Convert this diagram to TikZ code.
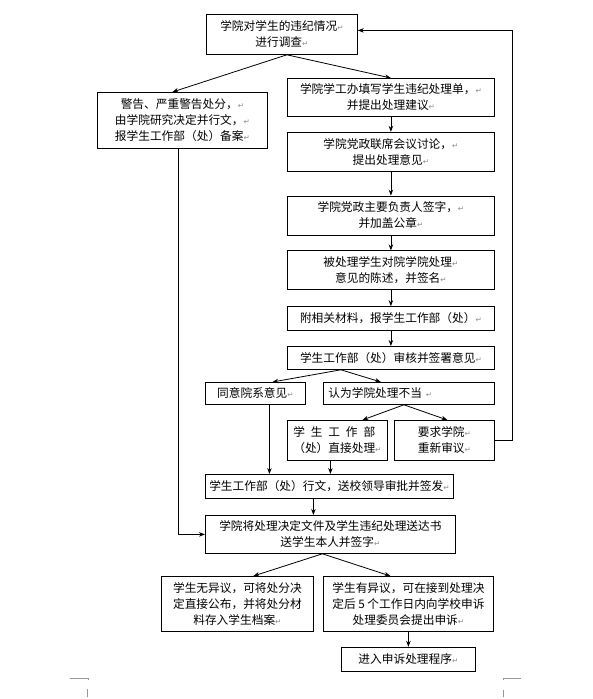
\documentclass[tikz,border=0pt]{standalone}
\usepackage{fontspec}
\usepackage{xcolor}
\usepackage{tikz}
\usetikzlibrary{positioning, arrows.meta, calc}
\newfontfamily\cjk{Noto Sans CJK SC}
\newfontfamily\dejavu{DejaVu Sans}
\newcommand{\crmark}{{\dejavu\fontsize{7.5}{8}\selectfont\textcolor{black!45}{↵}}}

\begin{document}
\begin{tikzpicture}[x=1pt, y=-1pt,
    box/.style={rectangle, draw, line width=0.8pt, align=center, inner sep=2pt, font=\cjk\fontsize{11.7}{16}\selectfont},
    colbox/.style={box, minimum width=207pt, anchor=north},
    arr/.style={-{Stealth[length=6pt,width=4.5pt]}, line width=0.8pt},
    crop/.style={draw=black!40, line width=0.6pt}
]
\useasboundingbox (0,0) rectangle (592,699);

\node[box, anchor=north west, minimum width=151pt, minimum height=40pt] (survey) at (206,14) {学院对学生的违纪情况\crmark\\进行调查\crmark};
\node[box, anchor=north west, minimum width=170pt, minimum height=56pt] (warn) at (97,92) {警告、严重警告处分，\crmark\\由学院研究决定并行文，\crmark\\报学生工作部（处）备案\crmark};

\node[colbox, anchor=north west, minimum height=38pt] (form) at (287,78) {学院学工办填写学生违纪处理单，\crmark\\并提出处理建议\crmark};
\node[colbox, minimum height=39pt, below=15pt of form] (meeting) {学院党政联席会议讨论，\crmark\\提出处理意见\crmark};
\node[colbox, minimum height=39pt, below=24pt of meeting] (leader) {学院党政主要负责人签字，\crmark\\并加盖公章\crmark};
\node[colbox, minimum height=39pt, below=15pt of leader] (statement) {被处理学生对院学院处理\crmark\\意见的陈述，并签名\crmark};
\node[colbox, minimum height=24pt, below=16pt of statement] (attach) {附相关材料，报学生工作部（处）\crmark};
\node[colbox, minimum height=23pt, below=15pt of attach] (review) {学生工作部（处）审核并签署意见\crmark};

\node[box, anchor=north west, minimum width=100pt, minimum height=22pt] (agree) at (205,382) {同意院系意见\crmark};
\node[box, anchor=north west, minimum width=171pt, minimum height=22pt, text width=161pt, align=left] (improper) at (323,382) {认为学院处理不当 \crmark};
\node[box, anchor=north west, minimum width=100pt, minimum height=40pt, align=left] (direct) at (287,420) {\makebox[7em][s]{学\hfill 生\hfill 工\hfill 作\hfill 部}\\（处）直接处理\crmark};
\node[box, anchor=north west, minimum width=100pt, minimum height=40pt] (redo) at (394,420) {要求学院\crmark\\重新审议\crmark};

\node[box, anchor=north west, minimum width=248pt, minimum height=24pt] (issue) at (205,474) {学生工作部（处）行文，送校领导审批并签发\crmark};
\node[box, anchor=north west, minimum width=250pt, minimum height=38pt] (deliver) at (205,515) {学院将处理决定文件及学生违纪处理送达书\\送学生本人并签字\crmark};

\node[box, anchor=north west, minimum width=152pt, minimum height=55pt] (noobj) at (161,576) {学生无异议，可将处分决\\定直接公布，并将处分材\\料存入学生档案\crmark};
\node[box, anchor=north west, minimum width=170pt, minimum height=55pt] (appeal) at (323,576) {学生有异议，可在接到处理决\\定后 5 个工作日内向学校申诉\\处理委员会提出申诉\crmark};
\node[box, minimum width=134pt, minimum height=24pt, below=15pt of appeal] (procedure) {进入申诉处理程序\crmark};

\draw[arr] ([xshift=5pt]survey.south) -- ([xshift=-10pt]warn.north);
\draw[arr] ([xshift=5pt]survey.south) -- (form.north);
\draw[arr] (form) -- (meeting);
\draw[arr] (meeting) -- (leader);
\draw[arr] (leader) -- (statement);
\draw[arr] (statement) -- (attach);
\draw[arr] (attach) -- (review);

\draw[arr] ([xshift=-50pt]review.south) -- ([xshift=17pt]agree.north);
\draw[arr] ([xshift=-50pt]review.south) -- ([xshift=-28pt]improper.north);
\draw[arr] ([xshift=-5pt]improper.south) -- ([xshift=25pt]direct.north);
\draw[arr] ([xshift=-5pt]improper.south) -- ([xshift=3pt]redo.north);

\draw[arr] ([xshift=14pt]agree.south) -- ([xshift=14pt]agree.south |- issue.north);
\draw[arr] ([xshift=-7pt]direct.south) -- ([xshift=-7pt]direct.south |- issue.north);
\draw[arr] ([xshift=-16pt]issue.south) -- ([xshift=-16pt]issue.south |- deliver.north);
\draw[arr] ([xshift=-4pt]warn.south) |- (deliver.west);

\coordinate (back) at ([xshift=18pt]redo.east);
\draw[arr] (redo.east) -- (back) |- ([yshift=4pt]survey.east);

\draw[arr] ([xshift=-8pt]deliver.south) -- ([xshift=16pt]noobj.north);
\draw[arr] ([xshift=-8pt]deliver.south) -- ([xshift=-18pt]appeal.north);
\draw[arr] (appeal) -- (procedure);

\draw[crop] (70,678) -- (88,678) -- (88,680);
\draw[crop] (87,689) -- (87,697);
\draw[crop] (521,678) -- (503,678) -- (503,680);
\draw[crop] (503,690) -- (503,697);
\end{tikzpicture}
\end{document}
